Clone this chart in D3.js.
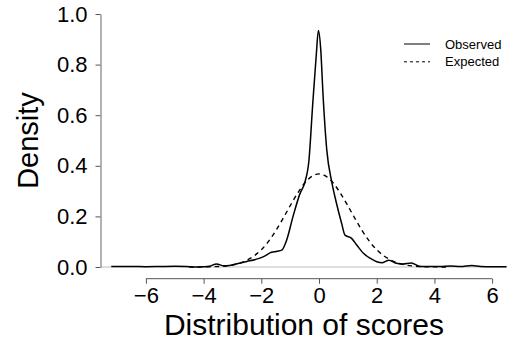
<!DOCTYPE html>
<html>
<head>
<meta charset="utf-8">
<script src="https://cdn.jsdelivr.net/npm/d3@7"></script>
<style>
  body { margin: 0; background: #fff; }
  svg { display: block; font-family: "Liberation Sans", Arial, sans-serif; }
</style>
</head>
<body>
<div id="plotContainer"></div>
<script>
// observed density (score, density)
var observedX = [-7.2, -6.5, -6.0, -5.5, -5.0, -4.6, -4.3, -4.0, -3.8, -3.55, -3.3, -3.1, -2.8, -2.5, -2.2,
  -1.94, -1.65, -1.45, -1.29, -1.12, -0.9, -0.66, -0.49, -0.35, -0.22, -0.1, -0.02, 0.06, 0.14, 0.27,
  0.44, 0.61, 0.79, 0.9, 1.13, 1.3, 1.54, 1.8, 2.0, 2.2, 2.42, 2.65, 2.9, 3.2, 3.5, 3.8, 4.2, 4.55,
  4.9, 5.3, 5.6, 6.0, 6.5];
var observedY = [0.002, 0.002, 0.001, 0.002, 0.003, 0.002, 0.0, 0.001, 0.003, 0.012, 0.005, 0.006, 0.014, 0.022, 0.03,
  0.04, 0.058, 0.062, 0.067, 0.107, 0.2, 0.29, 0.335, 0.42, 0.64, 0.83, 0.935, 0.86, 0.68, 0.462,
  0.337, 0.25, 0.17, 0.126, 0.113, 0.088, 0.054, 0.033, 0.021, 0.017, 0.027, 0.016, 0.012, 0.016, 0.002, 0.002, 0.002, 0.004,
  0.002, 0.006, 0.002, 0.001, 0.001];

// expected (normal) density
var expectedX = [-4.5, -4.0, -3.5, -3.0, -2.75, -2.5, -2.25, -2.0, -1.75, -1.5, -1.25, -1.0, -0.75, -0.5, -0.25, 0,
  0.25, 0.5, 0.75, 1.0, 1.25, 1.5, 1.75, 2.0, 2.25, 2.5, 2.75, 3.0, 3.5, 4.0, 4.5];
var expectedY = [0.0, 0.0005, 0.002, 0.008, 0.015, 0.027, 0.044, 0.068, 0.101, 0.143, 0.191, 0.242, 0.29, 0.331, 0.358, 0.368,
  0.358, 0.331, 0.29, 0.242, 0.191, 0.143, 0.101, 0.068, 0.044, 0.027, 0.015, 0.008, 0.002, 0.0005, 0.0];

var xTicks = [-6, -4, -2, 0, 2, 4, 6];
var yTicks = [0, 0.2, 0.4, 0.6, 0.8, 1.0];
var seriesNames = ["Observed", "Expected"];

var width = 513, height = 347;
var plot = {left: 101, right: 507, top: 14, bottom: 267};

var svg = d3.select("#plotContainer").append("svg")
  .attr("width", width)
  .attr("height", height);

var xScale = d3.scaleLinear().domain([-7.556, 6.516]).range([plot.left, plot.right]);
var yScale = d3.scaleLinear().domain([0, 1]).range([plot.bottom, plot.top]);

// zero line
svg.append("line")
  .attr("x1", plot.left).attr("x2", plot.right)
  .attr("y1", yScale(0)).attr("y2", yScale(0))
  .attr("stroke", "#bebebe").attr("stroke-width", 1.2);

// x axis (R style: line only from first to last tick)
var xAxisG = svg.append("g")
  .attr("transform", "translate(0," + 278.7 + ")")
  .call(d3.axisBottom(xScale).tickValues(xTicks).tickSize(5).tickSizeOuter(0).tickPadding(4)
    .tickFormat(function (d) { return d < 0 ? "\u2212" + Math.abs(d) : d; }));
xAxisG.select(".domain").remove();
xAxisG.append("line")
  .attr("x1", xScale(xTicks[0])).attr("x2", xScale(xTicks[xTicks.length - 1]))
  .attr("stroke", "#555");
xAxisG.selectAll(".tick line").attr("stroke", "#555");
xAxisG.selectAll("text").attr("font-size", 22).attr("fill", "#000");

// y axis
var yAxisG = svg.append("g")
  .attr("transform", "translate(" + 100.5 + ",0)")
  .call(d3.axisLeft(yScale).tickValues(yTicks).tickSize(5).tickSizeOuter(0).tickPadding(8)
    .tickFormat(d3.format(".1f")));
yAxisG.select(".domain").attr("stroke", "#666");
yAxisG.selectAll(".tick line").attr("stroke", "#555");
yAxisG.selectAll("text").attr("font-size", 22).attr("fill", "#000");

// axis titles
svg.append("text")
  .attr("x", 304).attr("y", 335)
  .attr("text-anchor", "middle")
  .attr("font-size", 30)
  .text("Distribution of scores");

svg.append("text")
  .attr("transform", "translate(38,140.5) rotate(-90)")
  .attr("text-anchor", "middle")
  .attr("font-size", 29)
  .text("Density");

// curves
var observed = observedX.map(function (x, i) { return [x, observedY[i]]; });
var expected = expectedX.map(function (x, i) { return [x, expectedY[i]]; });

var line = d3.line()
  .x(function (d) { return xScale(d[0]); })
  .y(function (d) { return yScale(d[1]); })
  .curve(d3.curveMonotoneX);

svg.append("path")
  .datum(expected)
  .attr("d", line)
  .attr("fill", "none")
  .attr("stroke", "#000")
  .attr("stroke-width", 1.4)
  .attr("stroke-dasharray", "4.5,4");

svg.append("path")
  .datum(observed)
  .attr("d", line)
  .attr("fill", "none")
  .attr("stroke", "#000")
  .attr("stroke-width", 1.5);

// legend
var legend = svg.append("g");
seriesNames.forEach(function (name, i) {
  var y = 44 + i * 17.8;
  legend.append("line")
    .attr("x1", 404).attr("x2", 430)
    .attr("y1", y).attr("y2", y)
    .attr("stroke", "#000")
    .attr("stroke-width", 1)
    .attr("stroke-dasharray", i === 1 ? "3,3" : null);
  legend.append("text")
    .attr("x", 445).attr("y", y)
    .attr("dy", "0.35em")
    .attr("font-size", 13)
    .text(name);
});
</script>
</body>
</html>
